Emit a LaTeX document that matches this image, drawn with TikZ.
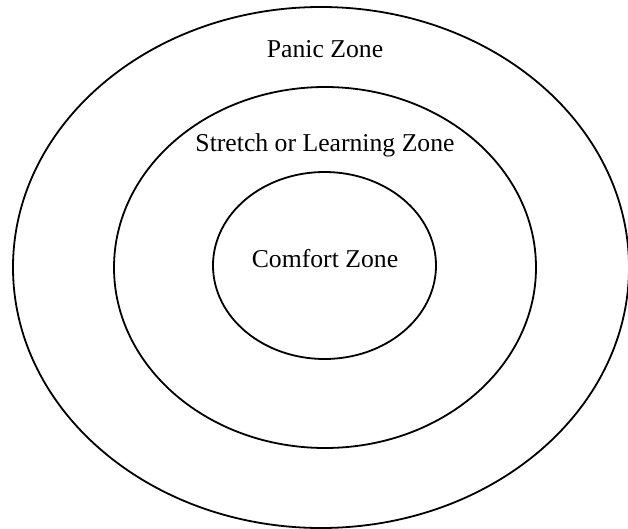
\documentclass[tikz,border=0pt]{standalone}
\usepackage{fontspec}
\setmainfont{Liberation Serif}
\usetikzlibrary{shapes.geometric}
\begin{document}
\begin{tikzpicture}[x=1pt,y=-1pt,
  zone/.style={draw=black, line width=1.8pt, ellipse, inner sep=0pt, outer sep=0pt},
  label/.style={anchor=base, inner sep=0pt, font=\fontsize{25.7pt}{30pt}\selectfont}]
\useasboundingbox (0,0) rectangle (628,529);
\node[zone, minimum width=616pt, minimum height=521pt] (outer) at (321,267.5) {};
\node[zone, minimum width=422pt, minimum height=361pt] (middle) at (325,267.5) {};
\node[zone, minimum width=223pt, minimum height=187pt] (inner) at (324.5,265.5) {};
\node[label] (panic) at (325,58) {Panic Zone};
\node[label] (stretch) at (325,152) {Stretch or Learning Zone};
\node[label] (comfort) at (325,267) {Comfort Zone};
\end{tikzpicture}
\end{document}
